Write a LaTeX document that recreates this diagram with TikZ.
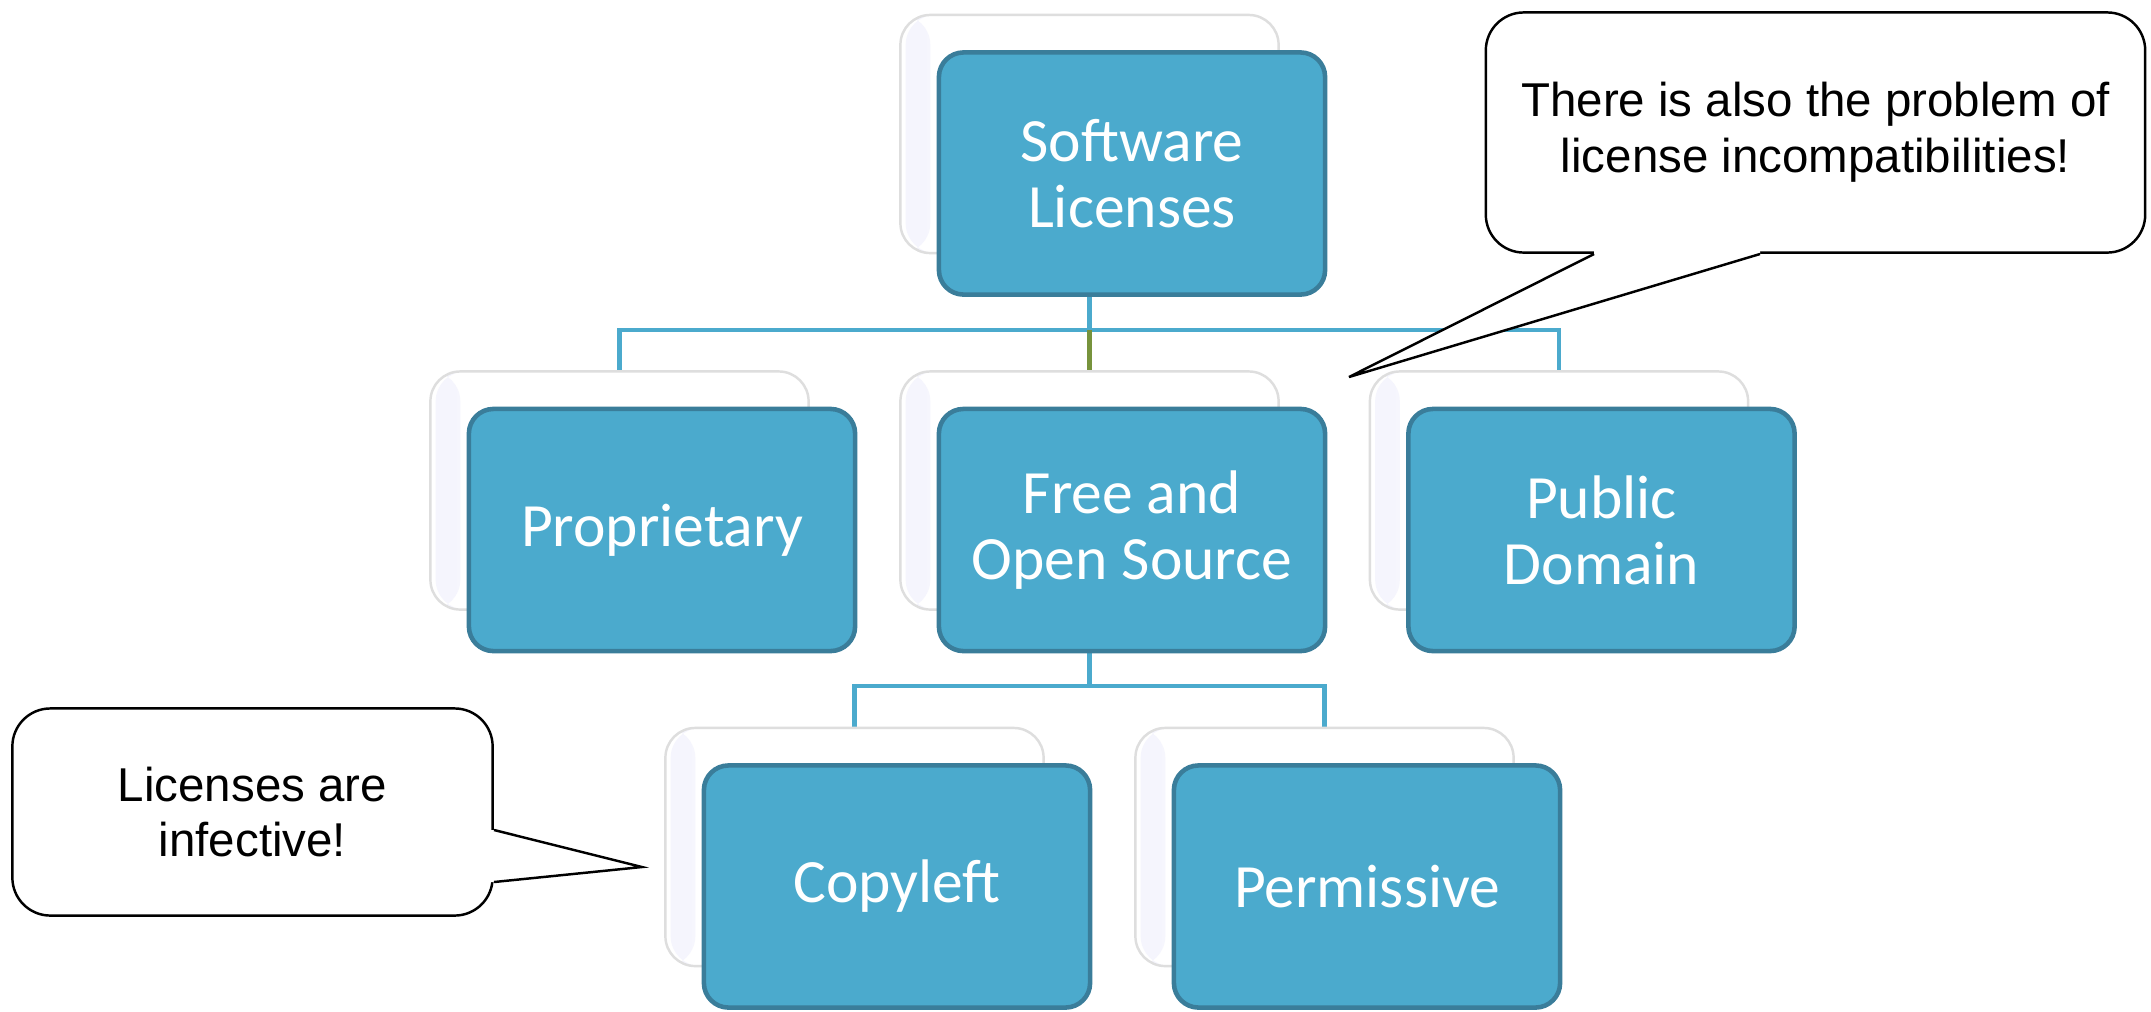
\documentclass[tikz,border=0pt]{standalone}
\usepackage{fontspec}
\setmainfont{Carlito}
\newfontfamily\notefont{Liberation Sans}
\usetikzlibrary{positioning,calc}
\definecolor{licblue}{RGB}{75,170,205}
\definecolor{licedge}{RGB}{58,125,154}
\definecolor{licolive}{RGB}{119,147,60}
\pgfdeclarelayer{bg}
\pgfsetlayers{bg,main}

\begin{document}
\begin{tikzpicture}[x=0.01cm,y=-0.01cm,
	licbox/.style={draw=licedge,line width=1.3pt,fill=licblue,rounded corners=7pt,minimum width=3.86cm,minimum height=2.42cm,align=center,text=white,font=\fontsize{17.5}{18.8}\selectfont},
	backbox/.style={draw=black!13,line width=0.7pt,fill=white,rounded corners=8.5pt,minimum width=3.78cm,minimum height=2.38cm,
		path picture={\shade[left color=black!18!blue!4,right color=white] ([xshift=1.5pt]path picture bounding box.south west) rectangle ([xshift=8.5pt]path picture bounding box.north west);}},
	link/.style={licblue,line width=1.4pt},
	note/.style={draw=black,line width=0.7pt,fill=white,rounded corners=10.8pt,align=center,font=\notefont\fontsize{13.5}{15.9}\selectfont}]
		\useasboundingbox (0,0) rectangle (2151,1011);
		\foreach \n/\x/\y/\t in {sl/1132/173.5/{Software\\Licenses},prop/662/530/Proprietary,foss/1132/530/{Free and\\Open Source},pd/1601.5/530/{Public\\Domain},copy/897/886.5/Copyleft,perm/1367/886.5/Permissive}{
			\node[backbox] (\n-bk) at (\x-42.5,\y-39.5) {};
			\node[licbox] (\n) at (\x,\y) {\t};
		}
		\begin{pgfonlayer}{bg}
			\coordinate (bar1) at (1089.5,330);
			\coordinate (bar2) at (1089.5,686);
			\draw[link] (sl-bk.south) -- (bar1);
			\draw[link] (prop-bk.north) |- (bar1) -| (pd-bk.north);
			\draw[licolive,line width=1.4pt] (bar1) -- (foss-bk.north);
			\draw[link] (foss-bk.south) -- (bar2);
			\draw[link] (copy-bk.north) |- (bar2) -| (perm-bk.north);
		\end{pgfonlayer}
		\node[note,minimum width=6.59cm,minimum height=2.4cm] (incompat) at (1815.5,132.5) {There is also the problem of\\license incompatibilities!};
		\coordinate (tip1) at (1349,377);
		\coordinate (t1a) at (1594,254);
		\coordinate (t1b) at (1760,254);
		\fill[white] (t1a) -- (tip1) -- (t1b) -- ([yshift=1pt]t1b) -- ([yshift=1pt]t1a) -- cycle;
		\draw[line width=0.7pt] (t1a) -- (tip1) -- (t1b);
		\node[note,minimum width=4.8cm,minimum height=2.07cm] (infect) at (252.5,812) {Licenses are\\infective!};
		\coordinate (tip2) at (642,867);
		\coordinate (t2a) at (494,830);
		\coordinate (t2b) at (494,882);
		\fill[white] (t2a) -- (tip2) -- (t2b) -- ([xshift=-1pt]t2b) -- ([xshift=-1pt]t2a) -- cycle;
		\draw[line width=0.7pt] (t2a) -- (tip2) -- (t2b);
\end{tikzpicture}
\end{document}
